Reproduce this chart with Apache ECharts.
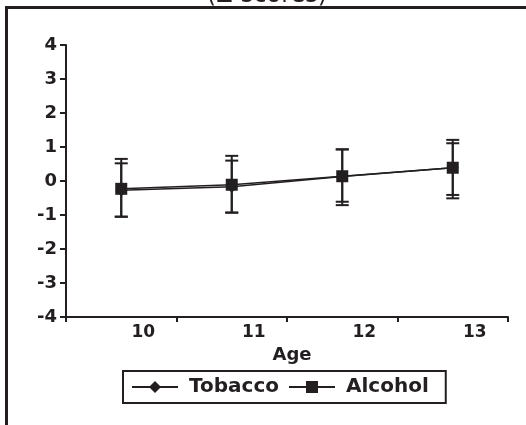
<!DOCTYPE html>
<html>
<head>
<meta charset="utf-8">
<script src="https://cdn.jsdelivr.net/npm/echarts@6/dist/echarts.min.js"></script>
<style>html,body{margin:0;padding:0;background:#fff}#c{width:526px;height:425px}</style>
</head>
<body>
<div id="c"></div>
<script>
var ages = ['10', '11', '12', '13'];
var yTicks = [-4, -3, -2, -1, 0, 1, 2, 3, 4];
var tobacco = [-0.27, -0.17, 0.13, 0.39];
var tobaccoHigh = [0.65, 0.74, 0.93, 1.21];
var tobaccoLow = [-1.05, -0.93, -0.61, -0.41];
var alcohol = [-0.23, -0.11, 0.14, 0.39];
var alcoholHigh = [0.52, 0.60, 0.93, 1.11];
var alcoholLow = [-1.05, -0.93, -0.71, -0.51];

var INK = '#231f20';
var FONT = 'DejaVu Sans';

function errData(low, high) {
  return ages.map(function (a, i) { return [i, low[i], high[i]]; });
}
function errRender(params, api) {
  var x = api.value(0);
  var lo = api.coord([x, api.value(1)]);
  var hi = api.coord([x, api.value(2)]);
  var w = 6.5;
  var st = { stroke: INK, lineWidth: 2 };
  return {
    type: 'group',
    children: [
      { type: 'line', shape: { x1: lo[0], y1: lo[1], x2: hi[0], y2: hi[1] }, style: st },
      { type: 'line', shape: { x1: hi[0] - w, y1: hi[1], x2: hi[0] + w, y2: hi[1] }, style: st },
      { type: 'line', shape: { x1: lo[0] - w, y1: lo[1], x2: lo[0] + w, y2: lo[1] }, style: st }
    ]
  };
}

var chart = echarts.init(document.getElementById('c'), null, { renderer: 'canvas' });
chart.setOption({
  animation: false,
  backgroundColor: '#fff',
  grid: { left: 66, right: 18, top: 45, bottom: 108, containLabel: false },
  xAxis: {
    type: 'category',
    data: ages,
    boundaryGap: true,
    name: 'Age',
    nameLocation: 'middle',
    nameGap: 27,
    nameTextStyle: { fontFamily: FONT, fontWeight: 'bold', fontSize: 18, color: INK, padding: [0, 0, 0, 10], verticalAlign: 'top' },
    axisLine: { onZero: false, lineStyle: { color: INK, width: 2 } },
    axisTick: { show: true, inside: false, length: 5, lineStyle: { color: INK, width: 2 } },
    axisLabel: { fontFamily: FONT, fontWeight: 'bold', fontSize: 17, color: INK, margin: 7, padding: [0, 0, 0, 44] },
    splitLine: { show: false }
  },
  yAxis: {
    type: 'value',
    min: yTicks[0],
    max: yTicks[yTicks.length - 1],
    interval: 1,
    axisLine: { show: true, lineStyle: { color: INK, width: 2 } },
    axisTick: { show: true, inside: false, length: 6, lineStyle: { color: INK, width: 2 } },
    axisLabel: { fontFamily: FONT, fontWeight: 'bold', fontSize: 18, color: INK, margin: 9 },
    splitLine: { show: false }
  },
  legend: {
    left: 123,
    top: 371,
    orient: 'horizontal',
    borderColor: INK,
    borderWidth: 2,
    padding: [6, 17, 6, 8],
    itemGap: 9,
    itemWidth: 46,
    itemHeight: 15,
    textStyle: { fontFamily: FONT, fontWeight: 'bold', fontSize: 20, color: INK, padding: [0, 0, 0, 6] },
    data: ['Tobacco', 'Alcohol']
  },
  graphic: [
    { type: 'polyline', shape: { points: [[6.5, 425], [6.5, 7.5], [526, 7.5]] }, style: { stroke: INK, lineWidth: 3, fill: null } },
    { type: 'text', x: 267, y: 8, style: { text: '(Z-scores)', font: '24px "DejaVu Sans"', fill: INK, align: 'center', verticalAlign: 'bottom' } }
  ],
  series: [
    { name: 'TobaccoErr', type: 'custom', renderItem: errRender, data: errData(tobaccoLow, tobaccoHigh), z: 1, silent: true },
    { name: 'AlcoholErr', type: 'custom', renderItem: errRender, data: errData(alcoholLow, alcoholHigh), z: 1, silent: true },
    {
      name: 'Tobacco', type: 'line', data: tobacco, symbol: 'diamond', symbolSize: 12,
      lineStyle: { color: INK, width: 1.5 }, itemStyle: { color: INK }, z: 2
    },
    {
      name: 'Alcohol', type: 'line', data: alcohol, symbol: 'rect', symbolSize: 12,
      lineStyle: { color: INK, width: 1.5 }, itemStyle: { color: INK }, z: 3
    }
  ]
});
</script>
</body>
</html>
